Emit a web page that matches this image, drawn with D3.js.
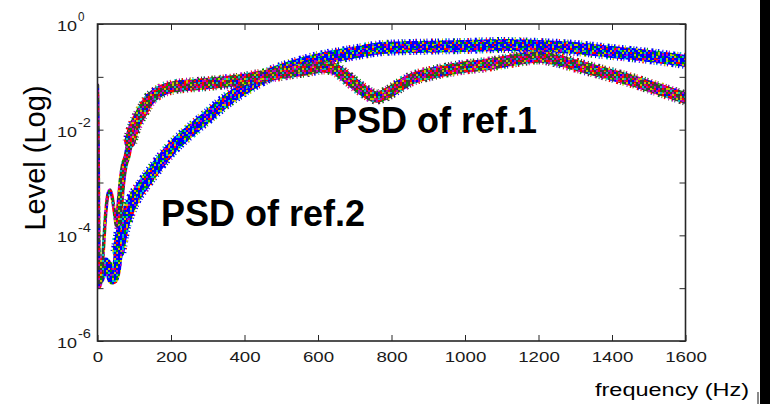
<!DOCTYPE html>
<html>
<head>
<meta charset="utf-8">
<script src="https://cdn.jsdelivr.net/npm/d3@7"></script>
<style>
    html, body { margin: 0; padding: 0; background: #fff; }
    svg { display: block; font-family: Arial, "Liberation Sans", Helvetica, sans-serif; }
</style>
</head>
<body>
<svg id="chart" width="770" height="404"></svg>
<script>
// ===== Data =====
const FREQ_REF1 = [0, 2, 5, 10, 15, 22, 28, 34, 40, 46, 52, 57, 62, 67, 73, 80, 88, 97, 110, 124, 140, 162,
    205, 252, 300, 342, 390, 434, 480, 524, 570, 614, 640, 670, 700, 730, 760, 790, 820, 860, 900, 950,
    1000, 1050, 1100, 1150, 1200, 1250, 1300, 1350, 1400, 1450, 1500, 1550, 1600];
const LEVEL_REF1 = [0.070, 2.67e-3, 1.05e-5, 1.43e-5, 4.24e-5, 2.43e-4, 5.8e-4, 7.2e-4, 5.3e-4, 2.76e-4, 1.5e-4,
    1.79e-4, 4.66e-4, 1.11e-3, 2.14e-3, 3.04e-3, 5.84e-3, 9.85e-3, 0.0159, 0.0236, 0.0364, 0.0494,
    0.0642, 0.0700, 0.0747, 0.0798, 0.0871, 0.0993, 0.1107, 0.1234, 0.1376, 0.1535, 0.1469, 0.1083,
    0.0731, 0.0516, 0.0415, 0.0494, 0.0671, 0.0950, 0.1131, 0.1347, 0.1535, 0.1675, 0.1908, 0.2175,
    0.2374, 0.2083, 0.1675, 0.1347, 0.1083, 0.0871, 0.0671, 0.0516, 0.0397];

const FREQ_REF2 = [0, 2, 5, 10, 16, 22, 28, 34, 40, 46, 52, 57, 62, 69, 80, 88, 100, 124, 162, 205, 252,
    298, 342, 388, 434, 477, 524, 570, 614, 660, 706, 777, 850, 1000, 1100, 1200, 1300, 1400, 1500, 1600];
const LEVEL_REF2 = [0.0453, 4.66e-4, 1.43e-5, 1.70e-5, 2.41e-5, 3.13e-5, 2.74e-5, 2.02e-5, 1.43e-5, 1.56e-5,
    2.41e-5, 4.83e-5, 8.15e-5, 1.44e-4, 2.43e-4, 3.44e-4, 5.08e-4, 8.96e-4, 2.05e-3, 4.70e-3, 9.44e-3,
    0.0174, 0.0320, 0.0540, 0.0834, 0.1181, 0.1535, 0.1908, 0.2272, 0.2589, 0.2951, 0.3513, 0.3669,
    0.3834, 0.4004, 0.3834, 0.3513, 0.2951, 0.2479, 0.1994];

const X_TICKS = [0, 200, 400, 600, 800, 1000, 1200, 1400, 1600];
const Y_DECADES = [1, 1e-1, 1e-2, 1e-3, 1e-4, 1e-5, 1e-6];
const Y_LABEL_EXPONENTS = [0, -2, -4, -6];

// ===== Style =====
const CONFIG = {
    plot: { left: 97.5, right: 685.5, top: 24, bottom: 341 },
    frame: '#262626',
    palette: {
        k: '#3c3c3c', b: '#0000ff', g: '#009400', r: '#ff0000',
        c: '#00c0c0', m: '#c000c0', y: '#c4c400'
    },
    // hand-laid speckle tiles for the bundles of overlapping traces
    tiles: {
        mainA: ['kmrkkykmr', 'rkgmkkckm', 'kykrbmkrk', 'mkckmrkgk', 'grkmkyckm', 'kbmyrkkrb', 'ckrkmgkyk'],
        overA: ['.r..m..', '..y...b', 'g...k..', '..m..r.', 'c...y.m'],
        mainB: ['bbcbybbgb', 'ybbrbbcbb', 'bgbbmbybb', 'cbbybbrbg', 'bmbbcgbby', 'rbgbbybcb', 'bbybgbbmb'],
        overB: ['.c..y..', '..r...g', 'y...m..', '..g..c.', 'm...b.r']
    },
    cell: 2,
    edgeDash: '1 2.5 1.5 1.5 1 3.5 2 2 1 1.5 1.5 3',
    // stroke layers: [pattern, width, dashed edge?, lowest frequency drawn]
    layers: {
        A: [['main', 15, true, 88], ['main', 11.5, false, 88], ['main', 7, false, 57],
            ['over', 9, false, 88], ['main', 3.5, false, 0]],
        B: [['main', 16, true, 57], ['main', 12, false, 57], ['main', 9, false, 5],
            ['over', 9, false, 5], ['main', 3.5, false, 0]]
    }
};

const svg = d3.select('#chart');
const P = CONFIG.plot;

const x = d3.scaleLinear().domain([0, 1600]).range([P.left, P.right]);
const y = d3.scaleLog().domain([1e-6, 1]).range([P.bottom, P.top]);

// ===== Speckle patterns =====
const defs = svg.append('defs');

function addTile(id, rows) {
    const c = CONFIG.cell;
    const pat = defs.append('pattern')
        .attr('id', id)
        .attr('patternUnits', 'userSpaceOnUse')
        .attr('width', rows[0].length * c)
        .attr('height', rows.length * c);
    rows.forEach((row, ri) => {
        row.split('').forEach((ch, ci) => {
            if (ch === '.') return;
            pat.append('rect')
                .attr('x', ci * c).attr('y', ri * c)
                .attr('width', c).attr('height', c)
                .attr('fill', CONFIG.palette[ch]);
        });
    });
}
Object.entries(CONFIG.tiles).forEach(([id, rows]) => addTile(id, rows));

defs.append('clipPath').attr('id', 'plot-clip')
    .append('rect')
    .attr('x', P.left).attr('y', P.top)
    .attr('width', P.right - P.left).attr('height', P.bottom - P.top);

// ===== Traces =====
const line = d3.line()
    .x(d => x(d.f))
    .y(d => y(d.v))
    .curve(d3.curveMonotoneX);

function drawBundle(freqs, levels, key) {
    const pts = freqs.map((f, i) => ({ f: f, v: levels[i] }));
    const g = svg.append('g').attr('clip-path', 'url(#plot-clip)');

    CONFIG.layers[key].forEach(([tile, width, dashed, minF]) => {
        g.append('path')
            .datum(pts.filter(d => d.f >= minF))
            .attr('d', line)
            .attr('fill', 'none')
            .attr('stroke', `url(#${tile}${key})`)
            .attr('stroke-width', width)
            .attr('stroke-dasharray', dashed ? CONFIG.edgeDash : null)
            .attr('stroke-linecap', dashed ? 'butt' : 'round')
            .attr('stroke-linejoin', 'round');
    });
}

drawBundle(FREQ_REF2, LEVEL_REF2, 'B');
drawBundle(FREQ_REF1, LEVEL_REF1, 'A');

// ===== Axes (ticks point inward, MATLAB style) =====
const tickLen = 6;

svg.append('g')
    .attr('transform', `translate(0,${P.bottom})`)
    .call(d3.axisBottom(x).tickValues(X_TICKS).tickSizeInner(-tickLen).tickSizeOuter(0)
        .tickPadding(10).tickFormat(d3.format('d')))
    .call(g => g.select('.domain').remove())
    .call(g => g.selectAll('line').attr('stroke', CONFIG.frame))
    .call(g => g.selectAll('text')
        .attr('font-size', 15)
        .attr('font-family', 'Arial, "Liberation Sans", sans-serif')
        .attr('fill', '#1a1a1a')
        .attr('textLength', d => String(d).length * 10.4)
        .attr('lengthAdjust', 'spacingAndGlyphs'));

svg.append('g')
    .attr('transform', `translate(0,${P.top})`)
    .call(d3.axisTop(x).tickValues(X_TICKS).tickSizeInner(-tickLen).tickSizeOuter(0).tickFormat(''))
    .call(g => g.select('.domain').remove())
    .call(g => g.selectAll('line').attr('stroke', CONFIG.frame));

svg.append('g')
    .attr('transform', `translate(${P.left},0)`)
    .call(d3.axisLeft(y).tickValues(Y_DECADES).tickSizeInner(-tickLen).tickSizeOuter(0).tickFormat(''))
    .call(g => g.select('.domain').remove())
    .call(g => g.selectAll('line').attr('stroke', CONFIG.frame));

svg.append('g')
    .attr('transform', `translate(${P.right},0)`)
    .call(d3.axisRight(y).tickValues(Y_DECADES).tickSizeInner(-tickLen).tickSizeOuter(0).tickFormat(''))
    .call(g => g.select('.domain').remove())
    .call(g => g.selectAll('line').attr('stroke', CONFIG.frame));

// y tick labels as 10^n
Y_LABEL_EXPONENTS.forEach(e => {
    const yy = y(Math.pow(10, e));
    const sup = e === 0 ? '0' : String(e);
    svg.append('text')
        .attr('x', 57)
        .attr('y', yy + 7)
        .attr('font-size', 15)
        .attr('textLength', 20)
        .attr('lengthAdjust', 'spacingAndGlyphs')
        .attr('fill', '#1a1a1a')
        .text('10');
    svg.append('text')
        .attr('x', 78)
        .attr('y', yy - 3)
        .attr('font-size', 12)
        .attr('textLength', sup.length * 6.5)
        .attr('lengthAdjust', 'spacingAndGlyphs')
        .attr('fill', '#1a1a1a')
        .text(sup);
});

// frame
svg.append('rect')
    .attr('x', P.left).attr('y', P.top)
    .attr('width', P.right - P.left).attr('height', P.bottom - P.top)
    .attr('fill', 'none')
    .attr('stroke', CONFIG.frame)
    .attr('stroke-width', 1.6);

// ===== Labels =====
svg.append('text')
    .attr('transform', 'translate(45,158) rotate(-90)')
    .attr('text-anchor', 'middle')
    .attr('font-size', 29)
    .attr('fill', '#000')
    .text('Level (Log)');

svg.append('text')
    .attr('x', 595)
    .attr('y', 396)
    .attr('font-size', 18)
    .attr('textLength', 154)
    .attr('lengthAdjust', 'spacingAndGlyphs')
    .attr('fill', '#000')
    .text('frequency (Hz)');

svg.append('text')
    .attr('x', 333)
    .attr('y', 133)
    .attr('font-size', 36)
    .attr('font-weight', 'bold')
    .attr('fill', '#000')
    .text('PSD of ref.1');

svg.append('text')
    .attr('x', 161)
    .attr('y', 226)
    .attr('font-size', 36)
    .attr('font-weight', 'bold')
    .attr('fill', '#000')
    .text('PSD of ref.2');

// cropped edge of neighbouring figure
svg.append('rect').attr('x', 760).attr('y', 0).attr('width', 10).attr('height', 404).attr('fill', '#000');
svg.append('rect').attr('x', 757).attr('y', 392).attr('width', 2).attr('height', 12).attr('fill', '#8a8a8a');
</script>
</body>
</html>
